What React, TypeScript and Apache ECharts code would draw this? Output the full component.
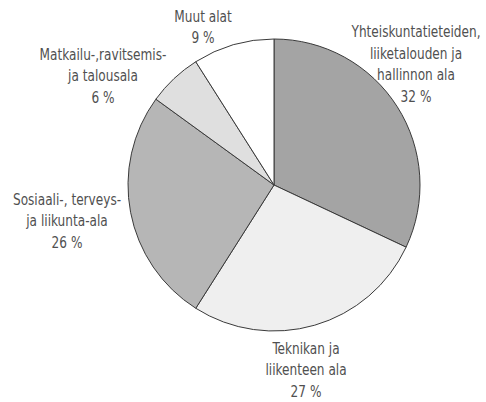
import React, { useEffect, useRef } from "react";
import * as echarts from "echarts";

const categories = [
  "Yhteiskuntatieteiden,\nliiketalouden ja\nhallinnon ala",
  "Teknikan ja\nliikenteen ala",
  "Sosiaali-, terveys-\nja liikunta-ala",
  "Matkailu-,ravitsemis-\nja talousala",
  "Muut alat",
];
const values = [32, 27, 26, 6, 9];
const sliceColors = ["#a4a4a4", "#efefef", "#b6b6b6", "#dfdfdf", "#ffffff"];
// label anchor positions (layout only)
const labelPos = [
  [416, 64],
  [306, 370],
  [67, 221],
  [103, 76],
  [203, 27],
];

export default function App() {
  const ref = useRef<HTMLDivElement>(null);
  useEffect(() => {
    const chart = echarts.init(ref.current!, null, { renderer: "svg" });
    chart.setOption({
      animation: false,
      backgroundColor: "#ffffff",
      series: [
        {
          type: "pie",
          center: [274, 185],
          radius: 146,
          startAngle: 90,
          clockwise: true,
          data: categories.map((c, i) => ({
            name: c,
            value: values[i],
            itemStyle: { color: sliceColors[i] },
          })),
          itemStyle: { borderColor: "#3a3a3a", borderWidth: 1 },
          label: { show: false },
          labelLine: { show: false },
          emphasis: { disabled: true },
        },
      ],
      graphic: categories.map((c, i) => ({
        type: "text",
        x: labelPos[i][0],
        y: labelPos[i][1],
        scaleX: 0.87,
        style: {
          text: `${c}\n${values[i]} %`,
          fontFamily: "'DejaVu Sans Condensed', 'DejaVu Sans', sans-serif",
          fontSize: 15.5,
          lineHeight: 21.5,
          fill: "#505050",
          align: "center",
          verticalAlign: "middle",
        },
      })),
    });
    return () => chart.dispose();
  }, []);
  return (
    <div
      ref={ref}
      style={{ position: "fixed", left: 0, top: 0, width: 486, height: 402 }}
    />
  );
}
